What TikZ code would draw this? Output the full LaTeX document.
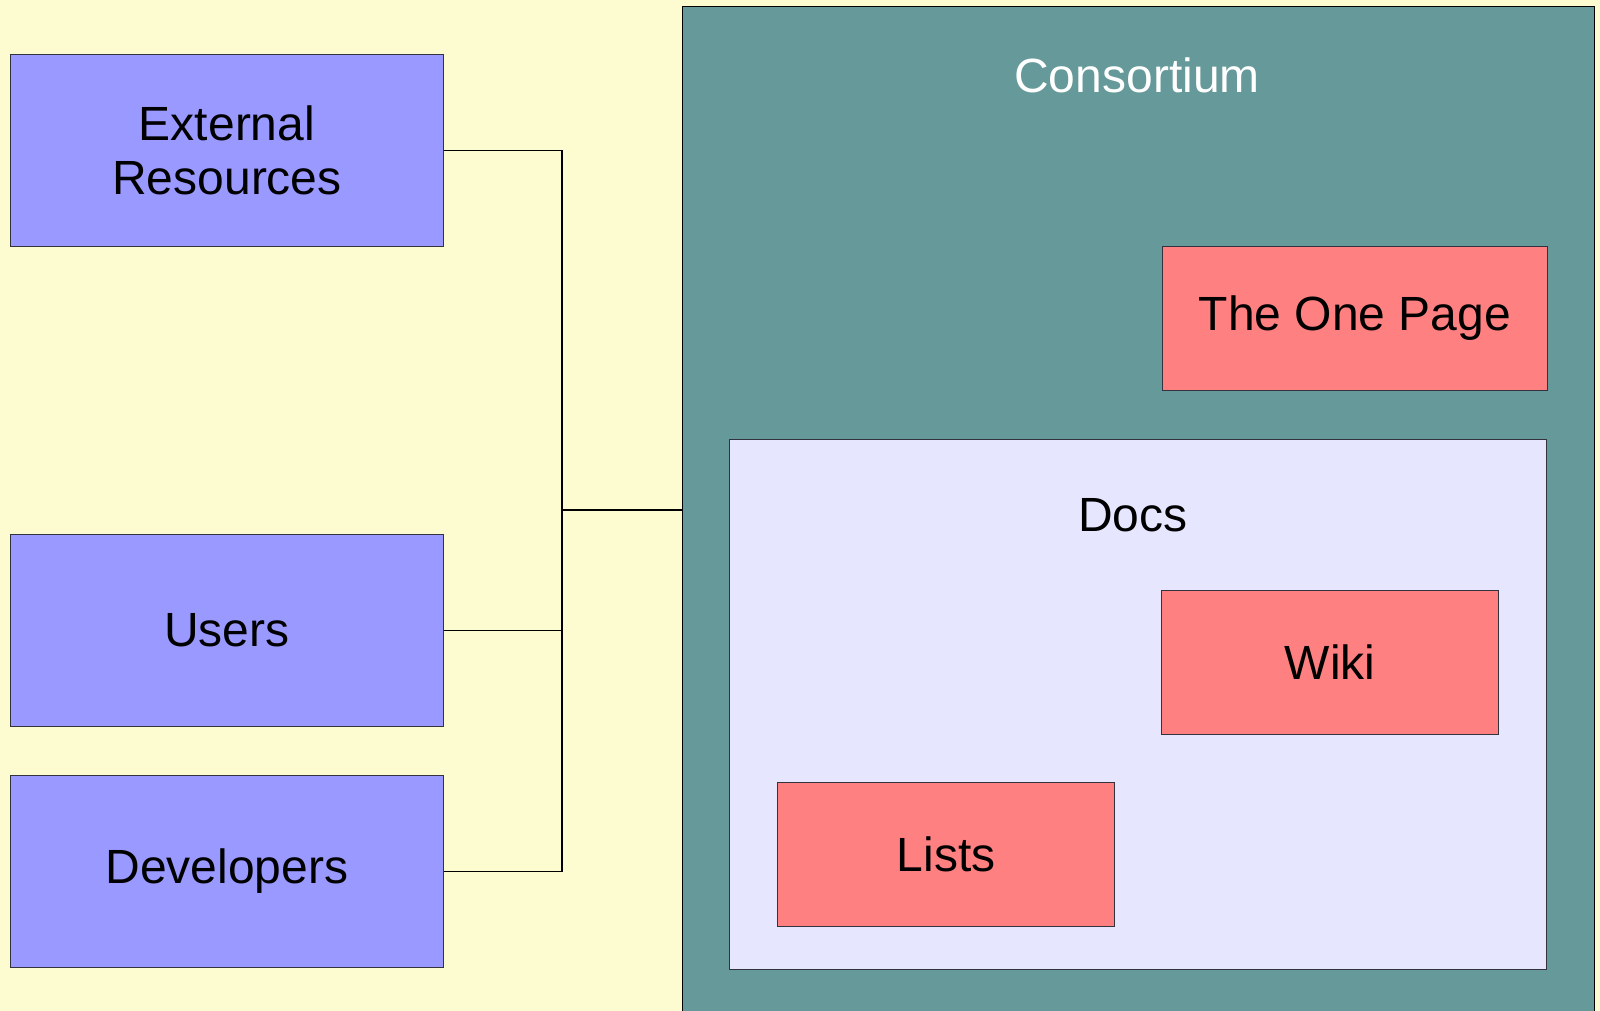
\documentclass[tikz,border=0pt]{standalone}
\usepackage{fontspec}
\setmainfont{Liberation Sans}
\definecolor{bgyellow}{HTML}{FCFCD0}
\definecolor{boxblue}{HTML}{9999FF}
\definecolor{boxred}{HTML}{FF8080}
\definecolor{teal}{HTML}{669999}
\definecolor{docsbg}{HTML}{E6E6FF}
\definecolor{edge}{HTML}{333340}
\begin{document}
\begin{tikzpicture}[x=1pt,y=-1pt,
  box/.style={draw=edge,line width=1pt,anchor=north west,inner sep=0pt,align=center,
    font=\fontsize{48}{54}\selectfont},
  bluebox/.style={box,fill=boxblue,minimum width=433pt,minimum height=192pt},
  redbox/.style={box,fill=boxred},
  wire/.style={draw=black,line width=1.3pt}]
\clip (0,0) rectangle (1600,1011);
\fill[bgyellow] (0,0) rectangle (1600,1011);
% consortium container
\node[draw=black,line width=1.3pt,fill=teal,anchor=north west,inner sep=0pt,
  minimum width=912pt,minimum height=1030pt] (cons) at (682,6) {};
\node[text=white,font=\fontsize{48}{54}\selectfont] (conslabel) at (1137,75) {Consortium};
\node[redbox,minimum width=385pt,minimum height=144pt] (onepage) at (1162,246) {The One Page};
% docs container
\node[box,fill=docsbg,minimum width=817pt,minimum height=530pt] (docs) at (729,439) {};
\node[font=\fontsize{48}{54}\selectfont] (docslabel) at (1133,515) {Docs};
\node[redbox,minimum width=337pt,minimum height=144pt] (wiki) at (1161,590) {Wiki};
\node[redbox,minimum width=337pt,minimum height=144pt] (lists) at (777,782) {Lists};
% left boxes
\node[bluebox] (ext) at (10,54) {External\\Resources};
\node[bluebox] (users) at (10,534) {Users};
\node[bluebox] (devs) at (10,775) {Developers};
% connectors
\coordinate (bus) at (562,510);
\draw[wire] (ext.east) -| (bus);
\draw[wire] (devs.east) -| (bus);
\draw[wire] (users.east) -| (bus);
\draw[wire] (bus) -- (bus -| cons.west);
\end{tikzpicture}
\end{document}
